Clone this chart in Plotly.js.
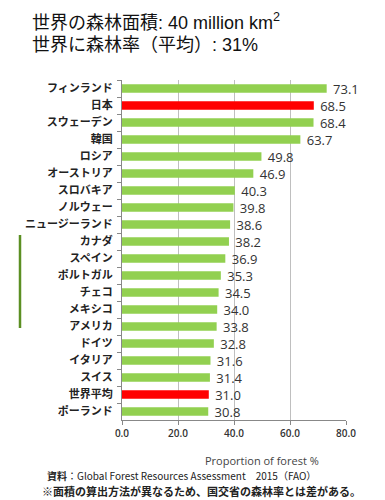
<!DOCTYPE html>
<html><head><meta charset="utf-8">
<script src="https://cdn.plot.ly/plotly-3.0.1.min.js"></script>
<style>html,body{margin:0;padding:0;background:#fff}#c{width:385px;height:500px}</style>
</head><body><div id="c"></div>
<script>
const countries = ["フィンランド","日本","スウェーデン","韓国","ロシア","オーストリア","スロバキア","ノルウェー","ニュージーランド","カナダ","スペイン","ポルトガル","チェコ","メキシコ","アメリカ","ドイツ","イタリア","スイス","世界平均","ポーランド"];
const forestShare = [73.1,68.5,68.4,63.7,49.8,46.9,40.3,39.8,38.6,38.2,36.9,35.3,34.5,34.0,33.8,32.8,31.6,31.4,31.0,30.8];
const highlighted = ["日本","世界平均"];
const xTickVals = [0,20,40,60,80];
const xTickText = ["0.0","20.0","40.0","60.0","80.0"];

const colors = countries.map(c => highlighted.includes(c) ? "#FF0000" : "#92D050");
const font = "'Noto Sans CJK JP', 'Noto Sans', sans-serif";
const titleFont = "'Liberation Sans', 'Noto Sans CJK JP', sans-serif";

Plotly.newPlot("c", [{
  type: "bar", orientation: "h",
  x: forestShare, y: countries,
  marker: {color: colors},
  width: 0.5,
  text: forestShare.map(v => " " + v.toFixed(1)),
  textposition: "outside",
  constraintext: "none",
  cliponaxis: false,
  textfont: {family: "'Open Sans', sans-serif", size: 13, color: "#333"},
  hoverinfo: "none"
}], {
  width: 385, height: 500,
  margin: {l: 122, r: 39, t: 80, b: 80},
  paper_bgcolor: "#fff", plot_bgcolor: "#fff",
  showlegend: false,
  xaxis: {
    range: [0, 80], tickvals: xTickVals, ticktext: xTickText,
    showgrid: true, gridcolor: "#BFBFBF", gridwidth: 1,
    showline: true, linecolor: "#888", zeroline: false,
    ticks: "outside", ticklen: 4, tickcolor: "#888",
    tickfont: {family: "'Open Sans', sans-serif", size: 10, color: "#333", weight: 600}
  },
  yaxis: {
    autorange: "reversed", type: "category",
    showline: true, linecolor: "#888",
    ticks: "outside", ticklen: 4, tickcolor: "#888", tickson: "boundaries",
    ticklabelstandoff: 6,
    tickfont: {family: font, size: 11, color: "#222", weight: 700},
    showgrid: false
  },
  annotations: [
    {xref: "paper", yref: "paper", x: (30-122)/224, y: 1 + (80-22)/340, xanchor: "left", yanchor: "middle", showarrow: false,
     text: "世界の森林面積: 40 million km<sup>2</sup>", font: {family: titleFont, size: 18, color: "#111"}},
    {xref: "paper", yref: "paper", x: (30-122)/224, y: 1 + (80-45)/340, xanchor: "left", yanchor: "middle", showarrow: false,
     text: "世界に森林率（平均）: 31%", font: {family: titleFont, size: 18, color: "#111"}},
    {xref: "paper", yref: "paper", x: (262-122)/224, y: -(460-420)/340, xanchor: "center", yanchor: "middle", showarrow: false,
     text: "Proportion of forest %", font: {family: "'Open Sans', sans-serif", size: 11, color: "#444"}},
    {xref: "paper", yref: "paper", x: (45-122)/224, y: -(475-420)/340, xanchor: "left", yanchor: "middle", showarrow: false,
     text: "<b>資料</b>：Global Forest Resources Assessment　2015（FAO）", font: {family: font, size: 10, color: "#222"}},
    {xref: "paper", yref: "paper", x: (40-122)/224, y: -(491-420)/340, xanchor: "left", yanchor: "middle", showarrow: false,
     text: "<b>※面積の算出方法が異なるため、国交省の森林率とは差がある。</b>", font: {family: font, size: 11, color: "#222"}}
  ],
  shapes: [
    {type: "line", xref: "paper", yref: "paper", x0: (20-122)/224, x1: (20-122)/224, y0: 1-(235-80)/340, y1: 1-(328-80)/340,
     line: {color: "#5B8F22", width: 2.5}}
  ]
}, {staticPlot: true});
</script></body></html>
